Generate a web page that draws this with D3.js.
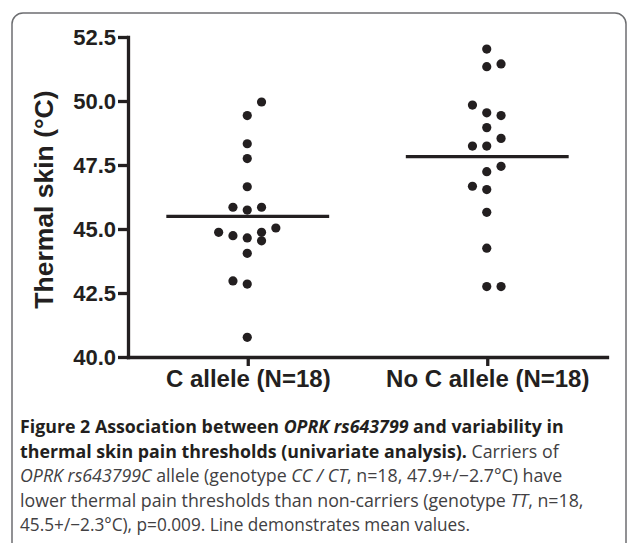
<!DOCTYPE html>
<html>
<head>
<meta charset="utf-8">
<script src="https://cdn.jsdelivr.net/npm/d3@7"></script>
<style>
  body { margin: 0; background: #fff; }
  svg { display: block; }
  .axis path, .axis line { stroke: #231f20; stroke-width: 3.3; }
  .axis text { fill: #231f20; font-family: "Liberation Sans", Arial, sans-serif; font-weight: bold; }
</style>
</head>
<body>
<script>
// values
const categories = ["C allele (N=18)", "No C allele (N=18)"];
const yTicks = [40.0, 42.5, 45.0, 47.5, 50.0, 52.5];

const cAllele = [49.96, 49.43, 48.33, 47.75, 46.65, 45.85, 45.74, 45.85, 45.04,
                 44.87, 44.87, 44.74, 44.65, 44.54, 44.05, 42.97, 42.85, 40.77];
// beeswarm column used for each dot in the original scatter
const cSlot = [1, 0, 0, 0, 0, -1, 0, 1, 2, -2, 1, -1, 0, 1, 0, -1, 0, 0];

const noCAllele = [52.03, 51.34, 51.45, 49.84, 49.54, 49.43, 48.96, 48.54, 48.24,
                   48.24, 47.45, 47.24, 46.67, 46.54, 45.65, 44.25, 42.75, 42.75];
const noCSlot = [0, 0, 1, -1, 0, 1, 0, 1, -1, 0, 1, 0, -1, 0, 0, 0, 0, 1];

const groups = [
  { name: categories[0], values: cAllele, slots: cSlot },
  { name: categories[1], values: noCAllele, slots: noCSlot }
];

const W = 628, H = 543;
const svg = d3.select("body").append("svg")
    .attr("width", W)
    .attr("height", H);

// rounded frame
svg.append("rect")
    .attr("x", 12).attr("y", 13)
    .attr("width", 614).attr("height", 580)
    .attr("rx", 11)
    .attr("fill", "none")
    .attr("stroke", "#6d6e71")
    .attr("stroke-width", 1.5);

let x = d3.scalePoint()
    .domain(categories)
    .range([128, 607])
    .padding(0.5);

let y = d3.scaleLinear()
    .domain([40, 52.5])
    .range([357, 37]);

let slot = d3.scaleLinear().domain([0, 1]).range([-0.5, 13.8]);

svg.append("g")
    .attr("class", "axis axis--y")
    .attr("transform", "translate(128,0)")
    .call(d3.axisLeft(y).tickValues(yTicks).tickFormat(d3.format(".1f"))
        .tickSize(10).tickSizeOuter(0).tickPadding(2))
    .call(g => g.selectAll("text").style("font-size", "22px"));

svg.append("g")
    .attr("class", "axis axis--x")
    .attr("transform", "translate(0,357)")
    .call(d3.axisBottom(x).tickSize(9).tickSizeOuter(0).tickPadding(4))
    .call(g => g.selectAll("text").style("font-size", "24px"));

svg.selectAll(".axis path").attr("stroke-linecap", "square");

svg.append("text")
    .attr("transform", "translate(53," + (y(46.15)) + ") rotate(-90)")
    .attr("text-anchor", "middle")
    .attr("fill", "#231f20")
    .style("font-family", "'Liberation Sans', Arial, sans-serif")
    .style("font-weight", "bold")
    .style("font-size", "26.5px")
    .text("Thermal skin (°C)");

// dots
groups.forEach(gr => {
  svg.append("g").selectAll("circle")
      .data(gr.values)
      .enter().append("circle")
      .attr("cx", (d, i) => x(gr.name) + slot(gr.slots[i]))
      .attr("cy", d => y(d))
      .attr("r", 4.6)
      .attr("fill", "#231f20");

  let m = d3.mean(gr.values);
  let half = x.step() * 0.34;
  svg.append("line")
      .attr("x1", x(gr.name) - half)
      .attr("x2", x(gr.name) + half)
      .attr("y1", y(m)).attr("y2", y(m))
      .attr("stroke", "#231f20")
      .attr("stroke-width", 3.3);
});

// caption
const caption = [
  [["Figure 2 Association between ", "b"], ["OPRK rs643799", "bi"], [" and variability in", "b"]],
  [["thermal skin pain thresholds (univariate analysis).", "b"], [" Carriers of", "r"]],
  [["OPRK rs643799C", "i"], [" allele (genotype ", "r"], ["CC / CT", "i"], [", n=18, 47.9+/\u22122.7°C) have", "r"]],
  [["lower thermal pain thresholds than non-carriers (genotype ", "r"], ["TT", "i"], [", n=18,", "r"]],
  [["45.5+/\u22122.3°C), p=0.009. Line demonstrates mean values.", "r"]]
];
const capWidths = [586, 567, 582, 583, 450];

let cap = svg.append("g")
    .style("font-family", "'Open Sans', 'Noto Sans', sans-serif");

caption.forEach((line, li) => {
  let t = cap.append("text")
      .attr("x", 20)
      .attr("y", 433 + li * 24.6)
      .style("font-size", "17.8px");
  line.forEach(seg => {
    t.append("tspan")
        .text(seg[0])
        .attr("fill", seg[1].includes("b") ? "#231f20" : "#414042")
        .style("font-weight", seg[1].includes("b") ? "bold" : "normal")
        .style("font-style", seg[1].includes("i") ? "italic" : "normal");
  });
  let w = t.node().getComputedTextLength();
  if (w > capWidths[li]) {
    t.attr("textLength", capWidths[li]).attr("lengthAdjust", "spacingAndGlyphs");
  }
});
</script>
</body>
</html>
